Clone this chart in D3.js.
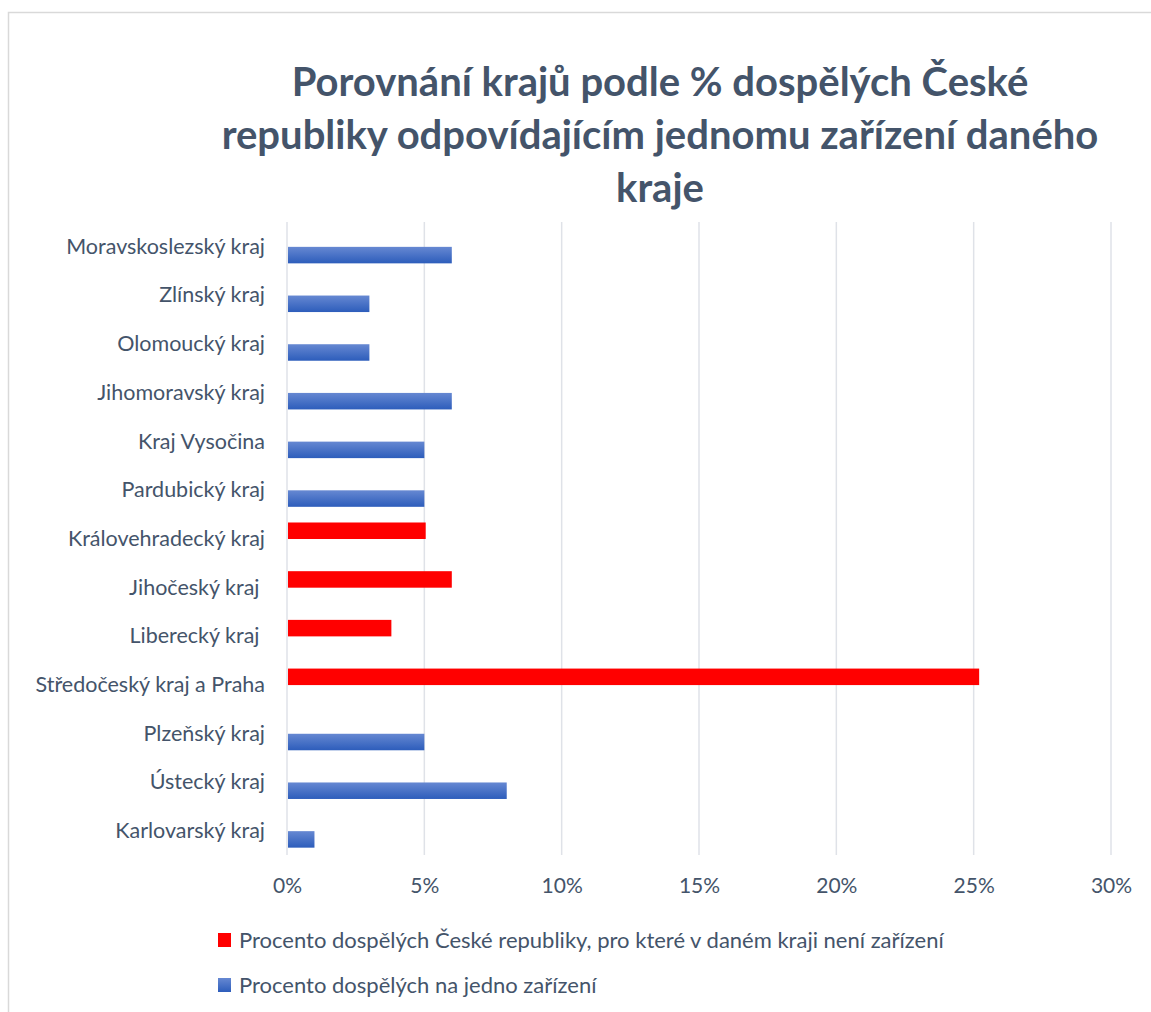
<!DOCTYPE html>
<html>
<head>
<meta charset="utf-8">
<style>
  body { margin: 0; background: #fff; }
  svg { font-family: Lato, "Open Sans", sans-serif; }
</style>
</head>
<body>
<div id="chart"></div>
<script src="https://d3js.org/d3.v7.min.js"></script>
<script>
// categories from top to bottom
const categories = [
  "Moravskoslezský kraj", "Zlínský kraj", "Olomoucký kraj", "Jihomoravský kraj",
  "Kraj Vysočina", "Pardubický kraj", "Královehradecký kraj", "Jihočeský kraj\u00a0",
  "Liberecký kraj\u00a0", "Středočeský kraj a Praha", "Plzeňský kraj", "Ústecký kraj",
  "Karlovarský kraj"
];
// % dospělých ČR, pro které v kraji není zařízení
const noFacility = [0, 0, 0, 0, 0, 0, 5.05, 6, 3.8, 25.2, 0, 0, 0];
// % dospělých na jedno zařízení
const perFacility = [6, 3, 3, 6, 5, 5, 0, 0, 0, 0, 5, 8, 1];
const xTicks = [0, 5, 10, 15, 20, 25, 30];

const seriesNames = [
  "Procento dospělých České republiky, pro které v daném kraji není zařízení",
  "Procento dospělých na jedno zařízení"
];

const width = 1151, height = 1012;
const textColor = "#44546A";

const svg = d3.select("#chart").append("svg")
  .attr("width", width)
  .attr("height", height);

// gradient for blue bars
const defs = svg.append("defs");
const grad = defs.append("linearGradient")
  .attr("id", "blueGrad")
  .attr("x1", 0).attr("y1", 0).attr("x2", 0).attr("y2", 1);
grad.append("stop").attr("offset", "0%").attr("stop-color", "#6688d2");
grad.append("stop").attr("offset", "100%").attr("stop-color", "#2d5dbb");

// chart frame
svg.append("rect")
  .attr("x", 8.5).attr("y", 12.5)
  .attr("width", 1160).attr("height", 1010)
  .attr("fill", "none")
  .attr("stroke", "#d9d9d9")
  .attr("stroke-width", 1.5);

// title
const titleLines = [
  "Porovnání krajů podle % dospělých České",
  "republiky odpovídajícím jednomu zařízení daného",
  "kraje"
];
svg.append("g")
  .selectAll("text")
  .data(titleLines)
  .join("text")
  .attr("x", 660)
  .attr("y", (d, i) => 96 + i * 53)
  .attr("text-anchor", "middle")
  .attr("font-size", 40)
  .attr("font-weight", "bold")
  .attr("fill", textColor)
  .text(d => d);

// scales
const x = d3.scaleLinear().domain([0, 30]).range([287, 1111]);
const y = d3.scaleBand()
  .domain(categories)
  .range([222.5, 855.5])
  .paddingInner(0.322)
  .paddingOuter(0.161);
const ySub = d3.scaleBand()
  .domain([0, 1])
  .range([0, y.bandwidth()]);

// gridlines
svg.append("g")
  .selectAll("line")
  .data(xTicks)
  .join("line")
  .attr("x1", d => x(d)).attr("x2", d => x(d))
  .attr("y1", 222).attr("y2", 855)
  .attr("stroke", "#dfe2e8")
  .attr("stroke-width", 1.5);

// x axis labels
const xAxis = d3.axisBottom(x)
  .tickValues(xTicks)
  .tickFormat(d => d + "%")
  .tickSize(0)
  .tickPadding(23);
const gx = svg.append("g")
  .attr("transform", "translate(0,855)")
  .call(xAxis);
gx.select(".domain").remove();
gx.selectAll("text")
  .attr("font-family", "Lato, sans-serif")
  .attr("font-size", 21)
  .attr("fill", textColor);

// y axis labels
const yAxis = d3.axisLeft(y).tickSize(0).tickPadding(22);
const gy = svg.append("g")
  .attr("transform", "translate(287,0)")
  .call(yAxis);
gy.select(".domain").remove();
gy.selectAll("text")
  .attr("font-family", "Lato, sans-serif")
  .attr("font-size", 21.5)
  .attr("fill", textColor);

// bars
const rows = categories.map((c, i) => ({ cat: c, vals: [noFacility[i], perFacility[i]] }));
const fills = ["#ff0000", "url(#blueGrad)"];

const group = svg.append("g")
  .selectAll("g")
  .data(rows)
  .join("g")
  .attr("transform", d => `translate(0,${y(d.cat)})`);

group.selectAll("rect")
  .data(d => d.vals.map((v, k) => ({ v, k })).filter(e => e.v > 0))
  .join("rect")
  .attr("x", x(0) + 1)
  .attr("y", d => ySub(d.k))
  .attr("width", d => x(d.v) - x(0) - 1)
  .attr("height", ySub.bandwidth())
  .attr("fill", d => fills[d.k]);

// legend
const legend = svg.append("g")
  .selectAll("g")
  .data(seriesNames)
  .join("g")
  .attr("transform", (d, i) => `translate(218,${940 + i * 45})`);

legend.append("rect")
  .attr("x", 0).attr("y", -7)
  .attr("width", 13).attr("height", 14)
  .attr("fill", (d, i) => fills[i]);

legend.append("text")
  .attr("x", 21)
  .attr("dy", "0.35em")
  .attr("font-size", 22)
  .attr("fill", textColor)
  .text(d => d);
</script>
</body>
</html>
